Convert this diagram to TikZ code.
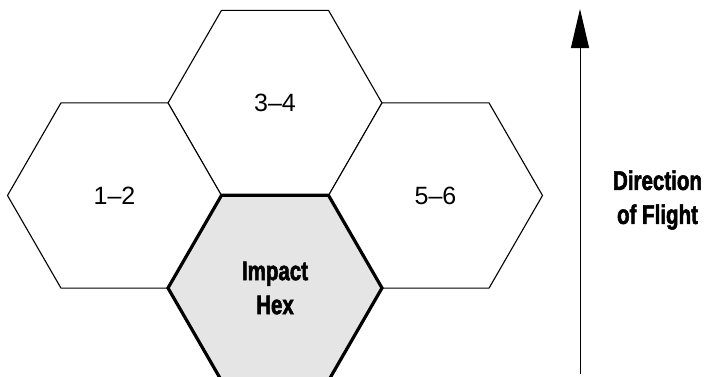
\documentclass[tikz,border=0pt]{standalone}
\usepackage{fontspec}
\setmainfont{Liberation Sans}
\newfontfamily\condfont[FakeStretch=0.76, FakeBold=2]{Liberation Sans Bold}
\usetikzlibrary{arrows.meta, shapes.geometric}

\begin{document}
\begin{tikzpicture}[
    x=1pt, y=-1pt, >={Triangle[length=39pt, width=18pt]},
    hex/.style={regular polygon, regular polygon sides=6, draw=black, line width=1.1pt,
                minimum size=214pt, inner sep=0pt, fill=white,
                font=\fontsize{25}{30}\selectfont},
    impact/.style={hex, line width=3.2pt, fill=black!10,
                   align=center, font=\condfont\fontsize{27}{34}\selectfont},
    lab/.style={align=center, font=\condfont\fontsize{27}{34}\selectfont},
]
\useasboundingbox (0,0) rectangle (709,376);
\clip (0,0) rectangle (709,376);

% ring of hexes in front of the impact hex
\node[hex] (h34) at (275, 103)   {3--4};
\node[hex] (h12) at (114.5, 195.5) {1--2};
\node[hex] (h56) at (435.5, 195.5) {5--6};
\node[impact] (hit) at (275, 288) {Impact\\ Hex};

% direction of flight
\coordinate (tail) at (580, 374);
\coordinate (tip) at (580, 9);
\draw[->, line width=1pt] (tail) -- (tip);
\node[lab] (dir) at (657.5, 200) {Direction\\ of Flight};

\end{tikzpicture}
\end{document}
